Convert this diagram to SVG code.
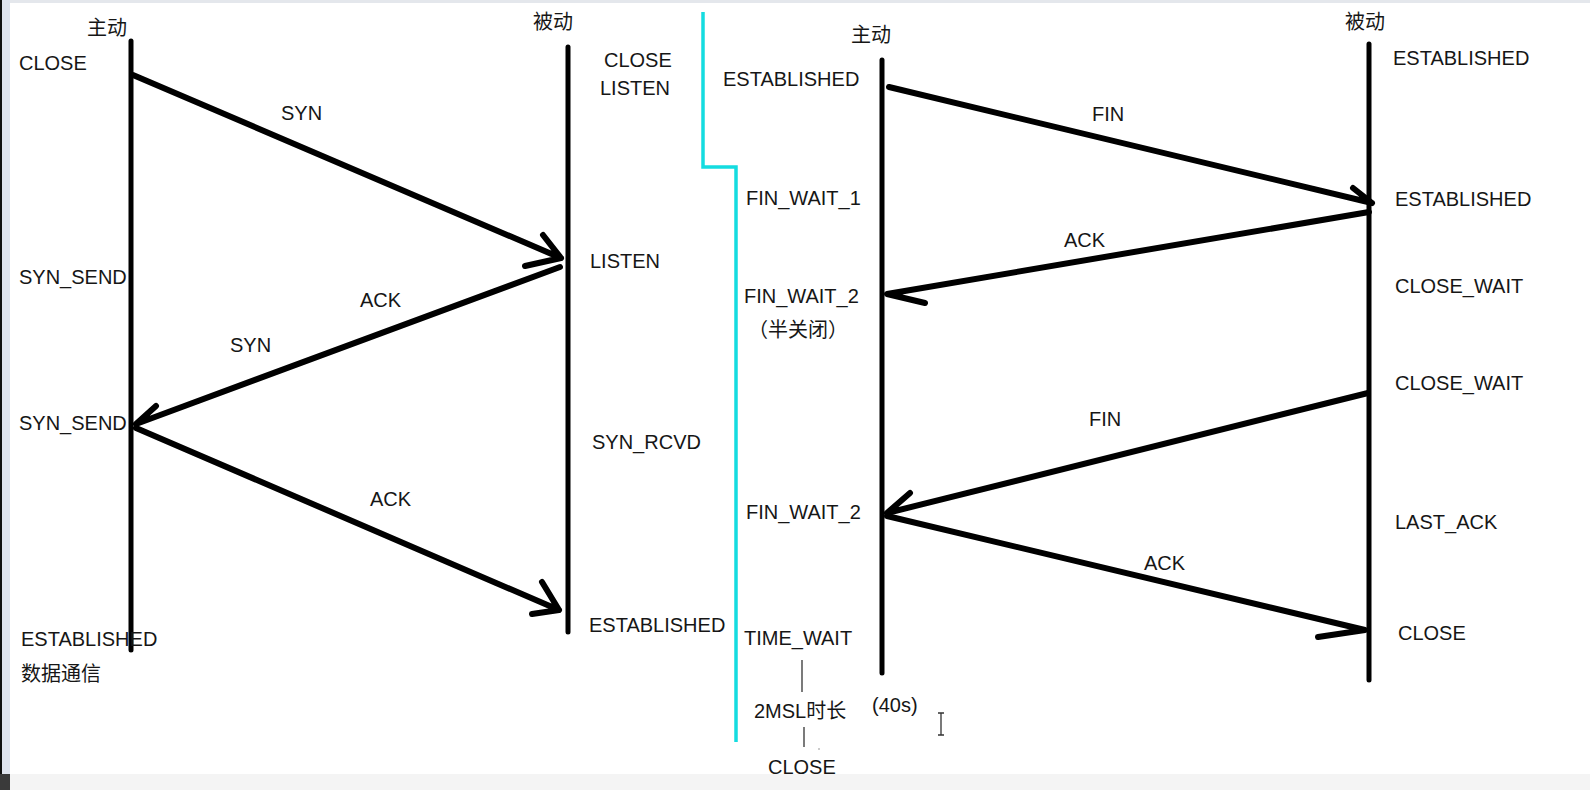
<svg xmlns="http://www.w3.org/2000/svg" width="1590" height="790" viewBox="0 0 1590 790">
<style>
  text { font-family: "Liberation Sans", "Noto Sans CJK SC", sans-serif; font-size: 20px; fill: #161616; }
  .life { stroke: #000; stroke-width: 5; stroke-linecap: round; fill: none; }
  .msg { stroke: #000; stroke-width: 6; stroke-linecap: round; stroke-linejoin: round; fill: none; }
  .thin { stroke: #333; stroke-width: 1.3; fill: none; }
  .cyan { stroke: #14dce0; stroke-width: 3.5; fill: none; }
</style>
<rect x="0" y="0" width="1590" height="790" fill="#ffffff"/>
<rect x="0" y="0" width="1590" height="3" fill="#e4e7ec"/>
<rect x="2" y="0" width="8" height="790" fill="#dfe4ee"/>
<rect x="0" y="0" width="2" height="790" fill="#111"/>
<rect x="10" y="774" width="1580" height="16" fill="#f4f4f4"/>
<rect x="0" y="774" width="10" height="16" fill="#3a3a3a"/>

<g id="divider">
  <polyline class="cyan" points="703,12 703,167 736,167 736,742"/>
</g>

<g id="lifelines">
  <line id="l-active-1" class="life" x1="131" y1="41" x2="131" y2="650"/>
  <line id="l-passive-1" class="life" x1="568" y1="47" x2="568" y2="632"/>
  <line id="l-active-2" class="life" x1="882" y1="60" x2="882" y2="673"/>
  <line id="l-passive-2" class="life" x1="1369" y1="44" x2="1369" y2="680"/>
</g>

<g id="connectors">
  <!-- handshake -->
  <path class="msg" d="M133,75 L561,258 M543,235 L561,258 L525,266"/>
  <path class="msg" d="M560,267 L136,424 M156,406 L136,424"/>
  <path class="msg" d="M136,428 L559,610 M542,582 L559,610 L532,614"/>
  <!-- teardown -->
  <path class="msg" d="M889,87 L1372,203 M1353,188 L1372,203"/>
  <path class="msg" d="M1369,212 L887,294 L925,303"/>
  <path class="msg" d="M1368,393 L887,513 M910,493 L887,513"/>
  <path class="msg" d="M887,516 L1365,630 L1318,637"/>
  <!-- time wait -->
  <line class="thin" x1="802" y1="660" x2="802" y2="692"/>
  <line class="thin" x1="804" y1="727" x2="804" y2="747"/>
  <circle cx="819" cy="749" r="0.8" fill="#888"/>
</g>

<g id="cursor">
  <path class="thin" d="M938,713 L944,713 M941,713 L941,735 M938,735 L944,735" stroke="#444"/>
</g>

<g id="labels-left">
  <text x="87" y="35">主动</text>
  <text x="533" y="29">被动</text>
  <text x="19" y="70">CLOSE</text>
  <text x="604" y="67">CLOSE</text>
  <text x="600" y="95">LISTEN</text>
  <text x="281" y="120">SYN</text>
  <text x="590" y="268">LISTEN</text>
  <text x="19" y="284">SYN_SEND</text>
  <text x="360" y="307">ACK</text>
  <text x="230" y="352">SYN</text>
  <text x="19" y="430">SYN_SEND</text>
  <text x="592" y="449">SYN_RCVD</text>
  <text x="370" y="506">ACK</text>
  <text x="589" y="632">ESTABLISHED</text>
  <text x="21" y="646">ESTABLISHED</text>
  <text x="21" y="681">数据通信</text>
</g>

<g id="labels-right">
  <text x="851" y="42">主动</text>
  <text x="1345" y="29">被动</text>
  <text x="723" y="86">ESTABLISHED</text>
  <text x="1393" y="65">ESTABLISHED</text>
  <text x="1092" y="121">FIN</text>
  <text x="1395" y="206">ESTABLISHED</text>
  <text x="746" y="205">FIN_WAIT_1</text>
  <text x="1064" y="247">ACK</text>
  <text x="744" y="303">FIN_WAIT_2</text>
  <text x="748" y="337">（半关闭）</text>
  <text x="1395" y="293">CLOSE_WAIT</text>
  <text x="1395" y="390">CLOSE_WAIT</text>
  <text x="1089" y="426">FIN</text>
  <text x="746" y="519">FIN_WAIT_2</text>
  <text x="1395" y="529">LAST_ACK</text>
  <text x="1144" y="570">ACK</text>
  <text x="1398" y="640">CLOSE</text>
  <text x="744" y="645">TIME_WAIT</text>
  <text x="754" y="718">2MSL时长</text>
  <text x="872" y="712">(40s)</text>
  <text x="768" y="774">CLOSE</text>
</g>
</svg>
